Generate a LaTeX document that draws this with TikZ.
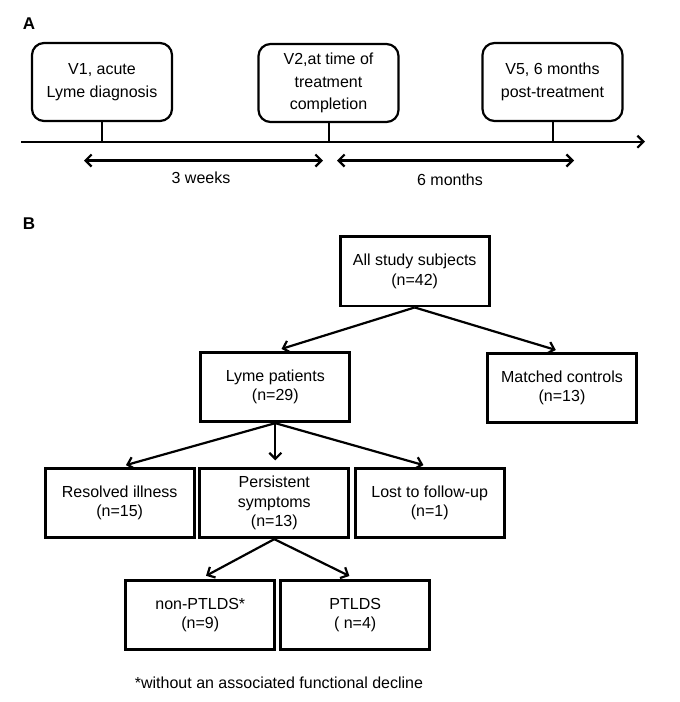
\documentclass[tikz,border=0pt]{standalone}
\usepackage{fontspec}
\setmainfont{Liberation Sans}
\usetikzlibrary{arrows.meta}

\begin{document}
\begin{tikzpicture}[x=1pt,y=-1pt,
    visit/.style={draw,line width=2.2pt,rounded corners=12pt,fill=white,
      minimum width=140pt,minimum height=78pt,align=center,inner sep=2pt,
      font=\fontsize{16}{22.5}\selectfont},
    flowbox/.style={draw,line width=2.8pt,fill=white,
      minimum width=149pt,minimum height=69.5pt,align=center,inner sep=2pt,
      font=\fontsize{16}{19.5}\selectfont},
    flowarrow/.style={line width=2.2pt,-{Straight Barb[length=6pt,width=12pt]},shorten >=6.5pt},
    span/.style={line width=2.2pt,{Straight Barb[length=6pt,width=12pt]}-{Straight Barb[length=6pt,width=12pt]}},
    lbl/.style={font=\fontsize{16}{19.5}\selectfont}]
  \useasboundingbox (0,0) rectangle (680,702);

  % A: timeline
  \node[font=\fontsize{17}{19}\selectfont\bfseries] (labA) at (29,24) {A};
  \coordinate (ax0) at (21,141.7);
  \coordinate (ax1) at (645,141.7);
  \draw[line width=2.2pt,-{Straight Barb[length=6pt,width=12pt]}] (ax0) -- (ax1);
  \node[visit] (v1) at (102,82) {V1, acute\\Lyme diagnosis};
  \node[visit] (v2) at (328.5,83) {V2,at time of\\treatment\\completion};
  \node[visit] (v5) at (552.5,82) {V5, 6 months\\post-treatment};
  \foreach \v in {v1,v2,v5}
    \draw[line width=2pt] (\v.south) -- (\v.south |- ax0);
  \coordinate (s1a) at (84,160.5);
  \coordinate (s1b) at (323,160.5);
  \coordinate (s2a) at (337,160.5);
  \coordinate (s2b) at (574,160.5);
  \draw[span] (s1a) -- (s1b);
  \draw[span] (s2a) -- (s2b);
  \node[lbl] (wk) at (201,177.5) {3 weeks};
  \node[lbl] (mo) at (450,179.5) {6 months};

  % B: flow of subjects
  \node[font=\fontsize{17}{19}\selectfont\bfseries] (labB) at (29,224) {B};
  \node[flowbox] (all) at (414.7,271.3) {All study subjects\\(n=42)};
  \node[flowbox] (lyme) at (275.3,387) {Lyme patients\\(n=29)};
  \node[flowbox] (ctrl) at (562,388) {Matched controls\\(n=13)};
  \node[flowbox] (res) at (119.7,503) {Resolved illness\\(n=15)};
  \node[flowbox] (pers) at (274.3,503) {Persistent\\symptoms\\(n=13)};
  \node[flowbox] (lost) at (429.7,503) {Lost to follow-up\\(n=1)};
  \node[flowbox] (non) at (200.3,615) {non-PTLDS*\\(n=9)};
  \node[flowbox] (ptlds) at (355.2,615) {PTLDS\\( n=4)};
  \draw[flowarrow] (all.south) -- (lyme.north);
  \draw[flowarrow] (all.south) -- (ctrl.north);
  \draw[flowarrow] (lyme.south) -- (res.north);
  \draw[flowarrow] (lyme.south) -- (lyme.south |- pers.north);
  \draw[flowarrow] (lyme.south) -- (lost.north);
  \draw[flowarrow] (pers.south) -- (non.north);
  \draw[flowarrow] (pers.south) -- (ptlds.north);
  \node[lbl] (note) at (279,683) {*without an associated functional decline};
\end{tikzpicture}
\end{document}
